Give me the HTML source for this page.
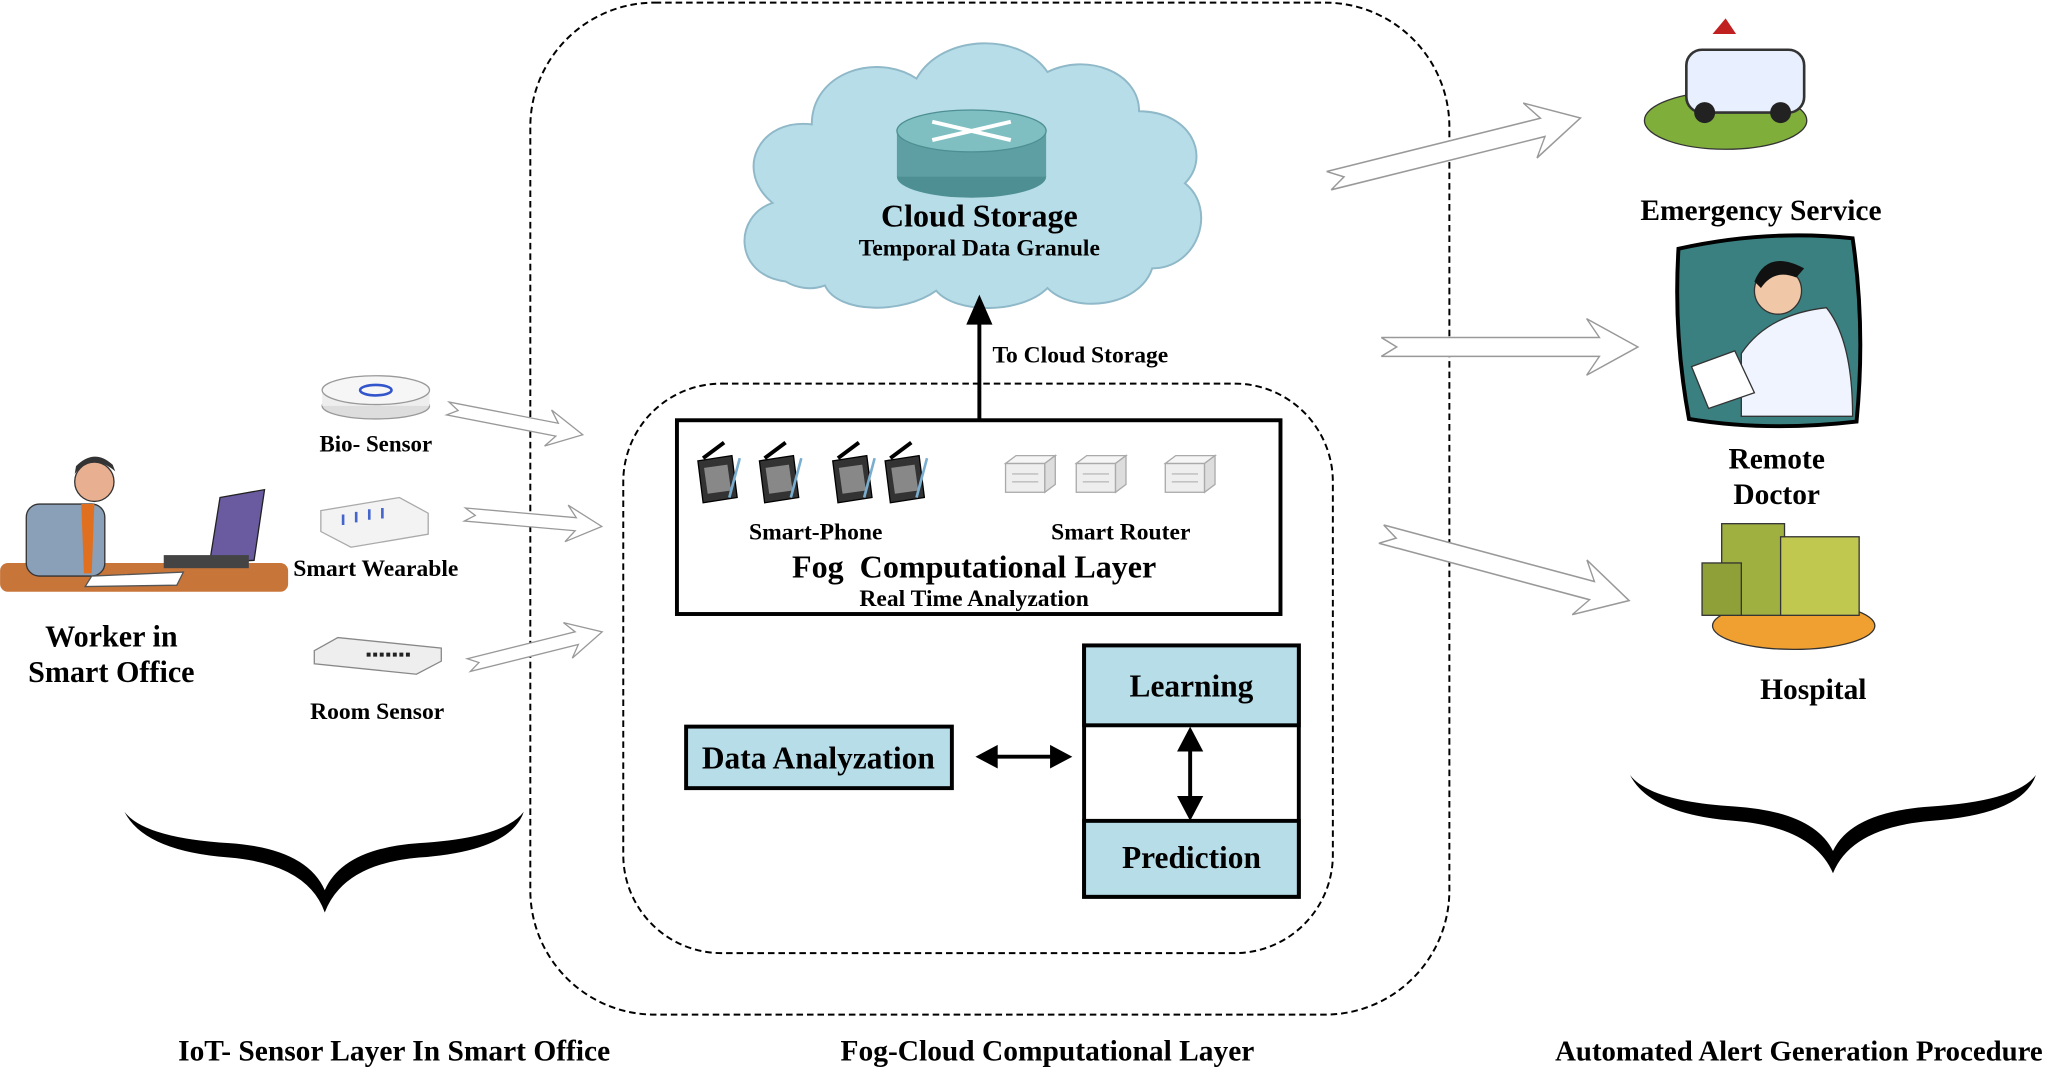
<!DOCTYPE html>
<html><head><meta charset="utf-8"><style>
html,body{margin:0;padding:0;background:#fff;}
svg{display:block;}
text{font-family:"Liberation Serif",serif;font-weight:bold;fill:#000;}
</style></head><body>
<svg width="2053" height="1067" viewBox="0 0 1568 815" xmlns="http://www.w3.org/2000/svg">
<defs>
<g id="harrow"><polygon points="0,-6 170,-6 160,-18 200,0 160,18 170,6 0,6 12,0" fill="#fff" stroke="#999" stroke-width="1"/></g>
<g id="sarrow"><polygon points="0,-5 85,-5 78,-14 105,0 78,14 85,5 0,5 8,0" fill="#fff" stroke="#999" stroke-width="1"/></g>
<g id="phone"><polygon points="0,8 26,4 30,36 4,40" fill="#333" stroke="#000"/><rect x="6" y="12" width="18" height="20" fill="#888" transform="rotate(-8 15 22)"/><line x1="4" y1="6" x2="20" y2="-6" stroke="#000" stroke-width="3"/><line x1="24" y1="36" x2="32" y2="6" stroke="#7aaed0" stroke-width="2"/></g>
<g id="router"><rect x="0" y="6" width="30" height="22" fill="#eee" stroke="#aaa"/><polygon points="0,6 8,0 38,0 30,6" fill="#f5f5f5" stroke="#aaa"/><polygon points="30,6 38,0 38,22 30,28" fill="#ddd" stroke="#aaa"/><line x1="5" y1="14" x2="25" y2="14" stroke="#bbb"/><line x1="5" y1="20" x2="25" y2="20" stroke="#bbb"/></g>
</defs>

<rect x="405" y="2" width="702" height="773" rx="95" fill="none" stroke="#000" stroke-width="1.5" stroke-dasharray="5,3"/>
<rect x="476" y="293" width="542" height="435" rx="75" fill="none" stroke="#000" stroke-width="1.5" stroke-dasharray="5,3"/>

<path d="M600,215 C560,210 560,165 590,155 C560,130 580,90 620,95 C620,55 670,40 700,60 C720,25 780,25 800,55 C830,40 870,55 870,85 C910,85 925,120 905,140 C930,160 915,205 880,205 C870,235 820,240 800,220 C780,240 730,240 715,222 C690,240 640,240 630,218 C620,222 608,220 600,215 Z" fill="#b7dde8" stroke="#8fb8c8" stroke-width="1.5"/>
<ellipse cx="742" cy="135" rx="57" ry="16" fill="#4d8f93"/>
<rect x="685" y="100" width="114" height="35" fill="#5e9fa3"/>
<ellipse cx="742" cy="100" rx="57" ry="16" fill="#7fbfc2" stroke="#4d8f93"/>
<g stroke="#fff" stroke-width="3"><line x1="712" y1="93" x2="772" y2="107"/><line x1="772" y1="93" x2="712" y2="107"/></g>
<text x="748" y="173" font-size="24.5" text-anchor="middle">Cloud Storage</text>
<text x="748" y="195" font-size="18" text-anchor="middle">Temporal Data Granule</text>

<line x1="748" y1="320" x2="748" y2="240" stroke="#000" stroke-width="3"/>
<polygon points="738,248 748,225 758,248" fill="#000"/>
<text x="758" y="277" font-size="18">To Cloud Storage</text>

<rect x="517" y="321" width="461" height="148" fill="#fff" stroke="#000" stroke-width="3"/>
<use href="#phone" x="533" y="344"/><use href="#phone" x="580" y="344"/><use href="#phone" x="636" y="344"/><use href="#phone" x="676" y="344"/>
<use href="#router" x="768" y="348"/><use href="#router" x="822" y="348"/><use href="#router" x="890" y="348"/>
<text x="623" y="412" font-size="18" text-anchor="middle">Smart-Phone</text>
<text x="856" y="412" font-size="18" text-anchor="middle">Smart Router</text>
<text x="744" y="441" font-size="24.5" text-anchor="middle" xml:space="preserve">Fog  Computational Layer</text>
<text x="744" y="463" font-size="18" text-anchor="middle">Real Time Analyzation</text>

<rect x="524" y="555" width="203" height="47" fill="#b7dde8" stroke="#000" stroke-width="3"/>
<text x="625" y="587" font-size="24" text-anchor="middle">Data Analyzation</text>
<line x1="758" y1="578" x2="806" y2="578" stroke="#000" stroke-width="3"/>
<polygon points="762,569 745,578 762,587" fill="#000"/><polygon points="802,569 819,578 802,587" fill="#000"/>

<rect x="828" y="493" width="164" height="192" fill="#fff" stroke="#000" stroke-width="3"/>
<rect x="828" y="493" width="164" height="61" fill="#b7dde8" stroke="#000" stroke-width="3"/>
<rect x="828" y="627" width="164" height="58" fill="#b7dde8" stroke="#000" stroke-width="3"/>
<text x="910" y="532" font-size="24" text-anchor="middle">Learning</text>
<text x="910" y="663" font-size="24" text-anchor="middle">Prediction</text>
<line x1="909" y1="570" x2="909" y2="612" stroke="#000" stroke-width="3"/>
<polygon points="899,574 909,555 919,574" fill="#000"/><polygon points="899,608 909,627 919,608" fill="#000"/>

<rect x="0" y="430" width="220" height="22" rx="6" fill="#c8753a"/>
<rect x="20" y="385" width="60" height="55" rx="10" fill="#8aa0b8" stroke="#333"/>
<polygon points="62,385 72,385 70,438 64,438" fill="#e07020"/>
<circle cx="72" cy="368" r="15" fill="#e8b090" stroke="#333"/>
<path d="M57,362 Q70,345 88,360 L86,355 Q72,342 58,356 Z" fill="#333"/>
<polygon points="168,380 202,374 194,428 160,430" fill="#6a5aa0" stroke="#222"/>
<rect x="125" y="424" width="65" height="10" fill="#444"/>
<polygon points="70,440 140,437 135,447 65,448" fill="#fff" stroke="#555"/>
<text x="85" y="494" font-size="23" text-anchor="middle">Worker in</text>
<text x="85" y="521" font-size="23" text-anchor="middle">Smart Office</text>

<ellipse cx="287" cy="310" rx="41" ry="10" fill="#ddd" stroke="#999"/>
<rect x="246" y="298" width="82" height="12" fill="#eee"/>
<ellipse cx="287" cy="298" rx="41" ry="11" fill="#f6f6f6" stroke="#999"/>
<ellipse cx="287" cy="298" rx="12" ry="4" fill="none" stroke="#3355cc" stroke-width="2"/>
<text x="287" y="345" font-size="17.5" text-anchor="middle">Bio- Sensor</text>
<polygon points="245,390 305,380 327,392 327,408 268,418 245,406" fill="#f3f3f3" stroke="#aaa"/>
<path d="M262,393 l0,8 M272,391 l0,8 M282,389 l0,8 M292,388 l0,8" stroke="#4466cc" stroke-width="2"/>
<text x="287" y="440" font-size="18" text-anchor="middle">Smart Wearable</text>
<polygon points="240,497 258,487 337,495 337,505 318,515 240,507" fill="#eee" stroke="#888"/>
<path d="M280,500 h35" stroke="#222" stroke-width="3" stroke-dasharray="3,2"/>
<text x="288" y="549" font-size="18" text-anchor="middle">Room Sensor</text>

<use href="#sarrow" transform="translate(342,312) rotate(11)"/>
<use href="#sarrow" transform="translate(355,393) rotate(5)"/>
<use href="#sarrow" transform="translate(358,508) rotate(-14)"/>

<use href="#harrow" transform="translate(1015,138) rotate(-14) scale(0.99,1.2)"/>
<use href="#harrow" transform="translate(1055,265) scale(0.98,1.2)"/>
<use href="#harrow" transform="translate(1055,408) rotate(15) scale(0.98,1.2)"/>

<ellipse cx="1318" cy="92" rx="62" ry="22" fill="#7fae3a" stroke="#333"/>
<rect x="1288" y="38" width="90" height="48" rx="12" fill="#e8f0ff" stroke="#333" stroke-width="2"/>
<circle cx="1302" cy="86" r="8" fill="#222"/><circle cx="1360" cy="86" r="8" fill="#222"/>
<polygon points="1308,26 1318,14 1326,26" fill="#c02020"/>
<text x="1345" y="168" font-size="22.5" text-anchor="middle">Emergency Service</text>

<path d="M1282,190 Q1350,175 1415,182 Q1425,250 1418,322 Q1350,330 1290,320 Q1278,255 1282,190 Z" fill="#3a8080" stroke="#000" stroke-width="3"/>
<path d="M1330,270 Q1350,240 1395,235 Q1415,260 1415,318 L1330,318 Z" fill="#f0f4ff" stroke="#333"/>
<circle cx="1358" cy="222" r="18" fill="#f0c8a8" stroke="#333"/>
<path d="M1340,215 Q1350,190 1378,205 L1372,212 Q1355,205 1345,220 Z" fill="#111"/>
<polygon points="1292,280 1325,268 1340,300 1305,312" fill="#fff" stroke="#333"/>
<text x="1357" y="358" font-size="22.5" text-anchor="middle">Remote</text>
<text x="1357" y="385" font-size="22.5" text-anchor="middle">Doctor</text>

<ellipse cx="1370" cy="478" rx="62" ry="18" fill="#f0a030" stroke="#333"/>
<rect x="1315" y="400" width="48" height="70" fill="#a0b040" stroke="#333"/>
<rect x="1360" y="410" width="60" height="60" fill="#c0c850" stroke="#333"/>
<rect x="1300" y="430" width="30" height="40" fill="#90a038" stroke="#333"/>
<text x="1385" y="534" font-size="22.5" text-anchor="middle">Hospital</text>

<path d="M95,620 Q110,650 175,655 Q235,660 248,697 Q262,660 320,655 Q390,650 400,620 Q385,640 320,644 Q262,648 248,680 Q234,648 175,644 Q110,640 95,620 Z" fill="#000"/>
<path d="M1245,592 Q1260,622 1325,627 Q1385,632 1400,667 Q1414,632 1475,627 Q1545,622 1555,592 Q1540,612 1475,616 Q1414,620 1400,650 Q1385,620 1325,616 Q1260,612 1245,592 Z" fill="#000"/>

<text x="301" y="810" font-size="22.5" text-anchor="middle">IoT- Sensor Layer In Smart Office</text>
<text x="800" y="810" font-size="22.5" text-anchor="middle">Fog-Cloud Computational Layer</text>
<text x="1374" y="810" font-size="22" text-anchor="middle">Automated Alert Generation Procedure</text>
</svg>
</body></html>
